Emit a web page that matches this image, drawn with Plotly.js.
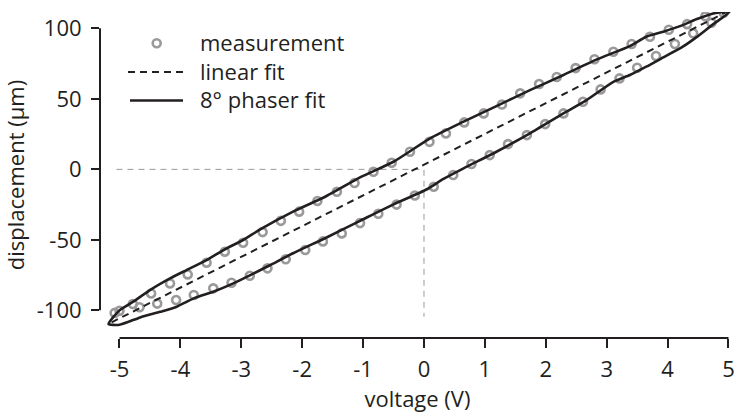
<!DOCTYPE html>
<html>
<head>
<meta charset="utf-8">
<script src="https://cdn.plot.ly/plotly-3.0.1.min.js"></script>
<style>html,body{margin:0;padding:0;background:#fff;}#chart{width:735px;height:414px;}</style>
</head>
<body>
<div id="chart"></div>
<script>
// ---------- data ----------
// measurement, upper branch (voltage decreasing)
const upperV = [4.92, 4.62, 4.32, 4.02, 3.71, 3.41, 3.11, 2.80, 2.49, 2.18, 1.89, 1.58, 1.28, 0.98, 0.66, 0.36, 0.09,
  -0.23, -0.53, -0.83, -1.14, -1.43, -1.75, -2.05, -2.35, -2.65, -2.97, -3.27, -3.57, -3.88, -4.17, -4.48, -4.78, -5.00, -5.08];
const upperD = [111, 108.5, 103, 99, 94, 88.9, 83.4, 78.1, 71.8, 65.5, 60.5, 53.9, 46, 39.7, 33.3, 25.5, 19.5,
  12.5, 4.7, -1.7, -9.7, -15.9, -22.4, -30, -36.5, -44.5, -52, -58.4, -66.2, -74.5, -80.9, -88, -95.5, -100.3, -101.8];
// measurement, lower branch (voltage increasing)
const lowerV = [-4.67, -4.38, -4.07, -3.78, -3.46, -3.16, -2.86, -2.57, -2.27, -1.95, -1.66, -1.35, -1.05, -0.75, -0.45, -0.15,
  0.16, 0.48, 0.78, 1.08, 1.38, 1.69, 1.99, 2.29, 2.61, 2.90, 3.21, 3.50, 3.81, 4.12, 4.42, 4.72];
const lowerD = [-97.8, -95.2, -92.7, -89.1, -84.4, -80.4, -75.5, -70.2, -63.8, -57.2, -51.1, -45.4, -38.1, -31.5, -25, -18.5,
  -12.3, -4.0, 3.8, 10.1, 17.9, 24.3, 32.1, 39.7, 47.9, 56.7, 64.5, 72.1, 80.4, 88.9, 96.5, 104];
// linear fit
const linV = [-5.13, 5.10];
const linD = [-108.5, 114.5];
// 8 degree phaser fit (closed loop)
const phaserV = [-5.18, -5.00, -4.66, -4.33, -4.06, -3.78, -3.46, -3.13, -2.86, -2.53, -2.15, -1.60, -1.05, -0.50, 0.04, 0.32,
  0.65, 1.19, 1.74, 2.29, 2.67, 3.11, 3.38, 3.65, 3.93, 4.25, 4.47, 4.75, 5.02,
  4.75, 4.47, 4.25, 3.93, 3.65, 3.38, 2.84, 2.29, 1.74, 1.19, 0.65, 0.10, -0.50, -1.05, -1.60, -2.15, -2.69, -2.97,
  -3.27, -3.57, -3.90, -4.17, -4.50, -4.78, -5.00, -5.18];
const phaserD = [-109.7, -110.2, -105, -101, -97.4, -91.5, -86.8, -80.9, -75.2, -68, -59.5, -48.3, -36.5, -24.8, -14.3, -6.8,
  0.7, 12.5, 25.5, 39.7, 49.1, 62.1, 66.9, 72.8, 79.4, 87, 93.6, 103, 111.8,
  110.6, 106.4, 102.3, 97.6, 94.0, 87.4, 78.0, 66.9, 56.2, 44.9, 33.8, 22, 5.4, -5.7, -18.9, -30, -42.6, -50.1,
  -56.7, -64.3, -71.4, -77.3, -85.6, -94, -100, -109.7];
// dashed origin guide
const guideV = [-5.05, 0, 0];
const guideD = [0, 0, -104.5];
// ticks
const xTicks = [-5, -4, -3, -2, -1, 0, 1, 2, 3, 4, 5];
const yTicks = [-100, -50, 0, 50, 100];
const legendLabels = ['measurement', 'linear fit', '8\u00B0 phaser fit'];

// ---------- layout constants ----------
const W = 735, H = 414;
const M = {l: 100, r: 0, t: 12, b: 76};
const XR = [-5.32, 5.107], YR = [-119.6, 111.6];
const INK = '#231f20', GREY = '#9a9a9a';
const FONT = 'Open Sans, Noto Sans, sans-serif';
const FS = 22;
const pw = W - M.l - M.r, ph = H - M.t - M.b;
const px2paperX = p => (p - M.l) / pw;
const py2paperY = p => (H - M.b - p) / ph;
const x2paper = v => (v - XR[0]) / (XR[1] - XR[0]);
const y2paper = v => (v - YR[0]) / (YR[1] - YR[0]);

const traces = [
  {x: guideV, y: guideD, mode: 'lines', line: {color: GREY, width: 1, dash: '6px,5px'}, hoverinfo: 'skip', showlegend: false},
  {x: upperV.concat(lowerV), y: upperD.concat(lowerD), mode: 'markers', name: legendLabels[0],
   marker: {symbol: 'circle-open', size: 8, color: GREY, line: {width: 2.6, color: GREY}}, showlegend: false},
  {x: linV, y: linD, mode: 'lines', name: legendLabels[1], line: {color: INK, width: 2, dash: '7px,5px'}, showlegend: false},
  {x: phaserV, y: phaserD, mode: 'lines', name: legendLabels[2], line: {color: INK, width: 2.6, shape: 'spline', smoothing: 0.6}, showlegend: false}
];

// legend drawn by hand (rows spaced like the text lines)
const LINE_H = FS * 1.3;
const legTop = 43.3;
const legRows = [legTop, legTop + LINE_H, legTop + 2 * LINE_H];
const shapes = [
  {type: 'line', xref: 'paper', yref: 'paper', x0: 0, x1: 0, y0: y2paper(yTicks[0]), y1: y2paper(yTicks[yTicks.length - 1]), line: {color: INK, width: 2}},
  {type: 'line', xref: 'paper', yref: 'paper', x0: x2paper(xTicks[0]), x1: x2paper(xTicks[xTicks.length - 1]), y0: 0, y1: 0, line: {color: INK, width: 2}},
  {type: 'circle', xref: 'paper', yref: 'paper', xsizemode: 'pixel', ysizemode: 'pixel',
   xanchor: px2paperX(156.7), yanchor: py2paperY(legRows[0]), x0: -4, x1: 4, y0: -4, y1: 4, line: {color: GREY, width: 2.6}},
  {type: 'line', xref: 'paper', yref: 'paper', x0: px2paperX(128), x1: px2paperX(184), y0: py2paperY(legRows[1]), y1: py2paperY(legRows[1]),
   line: {color: INK, width: 2, dash: '7px,5px'}},
  {type: 'line', xref: 'paper', yref: 'paper', x0: px2paperX(130), x1: px2paperX(183), y0: py2paperY(legRows[2]), y1: py2paperY(legRows[2]),
   line: {color: INK, width: 2.6}}
];
const annotations = [{
  text: legendLabels.join('<br>'), xref: 'paper', yref: 'paper', x: px2paperX(198), y: py2paperY(legRows[1] - 1),
  xanchor: 'left', yanchor: 'middle', align: 'left', showarrow: false, font: {family: FONT, size: FS, color: INK}
}];

const layout = {
  width: W, height: H, margin: M, paper_bgcolor: '#fff', plot_bgcolor: '#fff', showlegend: false,
  font: {family: FONT, size: FS, color: INK},
  xaxis: {range: XR, tickvals: xTicks, ticktext: xTicks.map(String), ticks: 'outside', ticklen: 9, tickwidth: 2, tickcolor: INK,
    showgrid: false, zeroline: false, showline: false, ticklabelstandoff: 3,
    title: {text: 'voltage (V)', font: {family: FONT, size: FS, color: INK}, standoff: 4}},
  yaxis: {range: YR, tickvals: yTicks, ticktext: yTicks.map(String), ticks: 'outside', ticklen: 8, tickwidth: 2, tickcolor: INK,
    showgrid: false, zeroline: false, showline: false, ticklabelstandoff: 5,
    title: {text: 'displacement (\u00B5m)', font: {family: FONT, size: FS, color: INK}, standoff: 10}},
  shapes: shapes, annotations: annotations
};

Plotly.newPlot('chart', traces, layout, {staticPlot: true, displayModeBar: false});
</script>
</body>
</html>
